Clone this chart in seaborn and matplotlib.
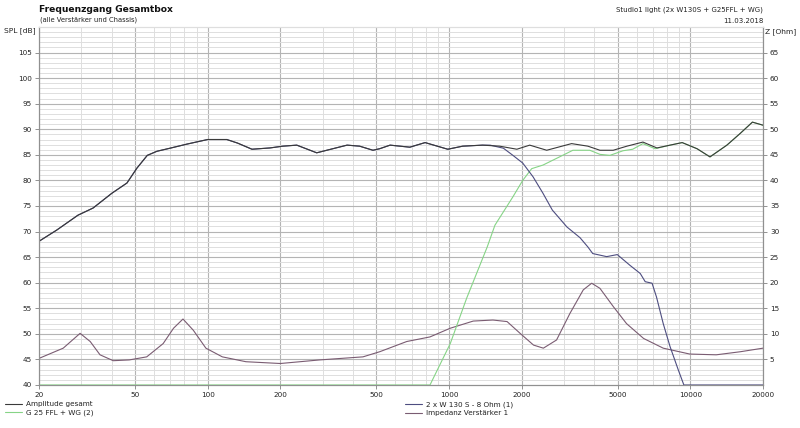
"""
Frequenzgang Gesamtbox - SPL und Impedanz ueber Frequenz (log).
"""

import matplotlib
matplotlib.use("Agg")
import matplotlib.pyplot as plt
import numpy as np
import pandas as pd
import seaborn as sns

# Amplitude gesamt (Hz, dB)
total_freq = [20, 23.7, 29, 33.5, 40.1, 46.3, 50.9, 56.2, 61.6, 69.8, 82, 100, 120,
              133, 152.6, 181, 205, 234, 283, 330, 378, 426, 484, 516, 570, 688,
              796, 988, 1140, 1376, 1620, 1910, 2160, 2540, 3220, 3760, 4220, 4790,
              5460, 6360, 7270, 8240, 9250, 10660, 12060, 14170, 16100, 18080, 20000]
total_spl = [68.1, 70.3, 73.2, 74.6, 77.5, 79.5, 82.4, 84.9, 85.7, 86.3, 87.1, 88.0, 88.0,
             87.3, 86.1, 86.35, 86.7, 86.9, 85.4, 86.2, 86.9, 86.7, 85.9, 86.2, 86.9, 86.5,
             87.4, 86.1, 86.7, 86.9, 86.7, 86.1, 86.9, 85.9, 87.2, 86.7, 85.9, 85.9,
             86.7, 87.5, 86.35, 86.9, 87.4, 86.2, 84.6, 86.9, 89.2, 91.4, 90.8]

# 2 x W 130 S - 8 Ohm (1)
woofer_freq = [20, 23.7, 29, 33.5, 40.1, 46.3, 50.9, 56.2, 61.6, 69.8, 82, 100, 120,
               133, 152.6, 181, 205, 234, 283, 330, 378, 426, 484, 516, 570, 688,
               796, 988, 1140, 1376, 1480, 1680, 1840, 2020, 2230, 2450, 2680, 3080,
               3490, 3760, 3940, 4500, 4980, 5620, 6200, 6500, 6940, 7240, 7720,
               8240, 8920, 9400, 20000]
woofer_spl = [68.1, 70.3, 73.2, 74.6, 77.5, 79.5, 82.4, 84.9, 85.7, 86.3, 87.1, 88.0, 88.0,
              87.3, 86.1, 86.35, 86.7, 86.9, 85.4, 86.2, 86.9, 86.7, 85.9, 86.2, 86.9, 86.5,
              87.4, 86.1, 86.7, 86.9, 86.9, 86.3, 84.9, 83.4, 80.7, 77.5, 74.2, 70.9,
              68.8, 67.0, 65.7, 65.1, 65.5, 63.4, 61.8, 60.2, 59.9, 57.2, 52.0,
              47.5, 42.9, 40.0, 40.0]

# G 25 FFL + WG (2)
tweeter_freq = [20, 834, 1012, 1184, 1440, 1550, 1840, 2020, 2200, 2450, 2870, 3260,
                3830, 4220, 4640, 5260, 5770, 6360, 7140, 8240, 9250, 10660, 12060,
                14170, 16100, 18080, 20000]
tweeter_spl = [40.0, 40.0, 48.1, 57.0, 67.0, 71.25, 76.8, 80.0, 82.3, 83.0, 84.6, 85.9,
               85.9, 85.1, 84.9, 85.8, 86.1, 87.2, 86.2, 86.9, 87.4, 86.2, 84.6,
               86.9, 89.2, 91.4, 90.8]

# Impedanz Verstaerker 1 (Hz, Ohm)
imp_freq = [20, 25.2, 29.6, 32.6, 35.8, 40.6, 47.3, 55.9, 65.4, 72.2, 79, 87.2, 98.3,
            115, 144, 200, 291, 440, 516, 668, 834, 1012, 1260, 1520, 1740, 1970,
            2240, 2460, 2790, 3170, 3600, 3900, 4220, 4800, 5440, 6400, 7720, 9940,
            12800, 16100, 20000]
imp_ohm = [5.2, 7.2, 10.1, 8.5, 5.9, 4.75, 4.9, 5.5, 8.1, 11.1, 12.9, 10.7, 7.2,
           5.5, 4.55, 4.2, 4.9, 5.5, 6.5, 8.5, 9.4, 11.1, 12.5, 12.7, 12.4, 10.1,
           7.8, 7.2, 8.8, 14.0, 18.6, 19.9, 18.9, 15.3, 12.0, 9.1, 7.2, 6.05,
           5.9, 6.5, 7.2]

freq_major = [20, 50, 100, 200, 500, 1000, 2000, 5000, 10000, 20000]
freq_labels = ["20", "50", "100", "200", "500", "1000", "2000", "5000", "10000", "20000"]
spl_ticks = list(range(40, 110, 5))
z_ticks = list(range(5, 70, 5))

COL_TOTAL = "#3a3a3a"
COL_WOOFER = "#4d4d80"
COL_TWEETER = "#86d486"
COL_IMP = "#7a5c72"
COL_GRID_MAJOR = "#b4b4b4"
COL_GRID_MINOR = "#dedede"
LW = 0.8
TICK_FS = 5.2


def main():
    sns.set_theme(style="white")
    plt.rcParams["font.family"] = ["DejaVu Sans"]

    fig = plt.figure(figsize=(8.0, 4.28), dpi=100)
    ax = fig.add_axes([0.04875, 0.1005, 0.905, 0.8364])
    ax2 = ax.twinx()
    # ax2 (impedance + grid) behind, SPL axis on top
    ax2.set_zorder(0)
    ax.set_zorder(1)
    ax.patch.set_visible(False)
    ax2.patch.set_facecolor("white")

    for a in (ax, ax2):
        a.set_xscale("log")
        a.set_xlim(20, 20000)
    ax.set_ylim(40, 110)
    ax2.set_ylim(0, 70)

    # grid on the back axis
    minor_f = []
    for dec in (10, 100, 1000, 10000):
        for m in range(2, 10):
            f = dec * m
            if 20 <= f <= 20000 and f not in freq_major:
                minor_f.append(f)
    for f in minor_f:
        ax2.axvline(f, color=COL_GRID_MINOR, lw=0.7, zorder=0)
    for f in freq_major:
        ax2.axvline(f, color=COL_GRID_MAJOR, lw=0.8, zorder=0)
    for z in range(1, 70):
        major = z % 5 == 0
        ax2.axhline(z, color=COL_GRID_MAJOR if major else COL_GRID_MINOR,
                    lw=0.8 if major else 0.7, zorder=0)

    df_total = pd.DataFrame({"f": total_freq, "v": total_spl})
    df_woofer = pd.DataFrame({"f": woofer_freq, "v": woofer_spl})
    df_tweeter = pd.DataFrame({"f": tweeter_freq, "v": tweeter_spl})
    df_imp = pd.DataFrame({"f": imp_freq, "v": imp_ohm})

    sns.lineplot(data=df_imp, x="f", y="v", ax=ax2, color=COL_IMP, lw=LW,
                 estimator=None, sort=False, zorder=3)
    sns.lineplot(data=df_tweeter, x="f", y="v", ax=ax, color=COL_TWEETER, lw=LW,
                 estimator=None, sort=False)
    sns.lineplot(data=df_woofer, x="f", y="v", ax=ax, color=COL_WOOFER, lw=LW,
                 estimator=None, sort=False)
    sns.lineplot(data=df_total, x="f", y="v", ax=ax, color=COL_TOTAL, lw=LW,
                 estimator=None, sort=False)

    for a in (ax, ax2):
        a.set_xlabel("")
        a.set_ylabel("")
        a.set_xlim(20, 20000)
    ax.set_ylim(40, 110)
    ax2.set_ylim(0, 70)

    ax.set_xticks(freq_major)
    ax.set_xticklabels(freq_labels)
    ax.set_xticks([], minor=True)
    ax2.set_xticks([], minor=True)
    ax.set_yticks(spl_ticks)
    ax2.set_yticks(z_ticks)

    tick_kw = dict(labelsize=TICK_FS, length=3, width=0.6, color="#808080", pad=2,
                   labelcolor="#222222")
    ax.tick_params(axis="x", bottom=True, **tick_kw)
    ax.tick_params(axis="y", left=True, **tick_kw)
    ax2.tick_params(axis="y", right=True, **tick_kw)

    for a in (ax, ax2):
        for sp in a.spines.values():
            sp.set_color("#909090")
            sp.set_linewidth(0.8)
        a.spines["top"].set_color(COL_GRID_MINOR)

    fig.text(0.049, 0.988, "Frequenzgang Gesamtbox", fontsize=6.6, fontweight="bold",
             ha="left", va="top", color="#111111")
    fig.text(0.050, 0.962, "(alle Verstärker und Chassis)", fontsize=4.9,
             ha="left", va="top", color="#222222")
    fig.text(0.954, 0.985, "Studio1 light (2x W130S + G25FFL + WG)", fontsize=5.0,
             ha="right", va="top", color="#222222")
    fig.text(0.954, 0.959, "11.03.2018", fontsize=5.0, ha="right", va="top",
             color="#222222")
    fig.text(0.045, 0.928, "SPL [dB]", fontsize=5.4, ha="right", va="center",
             color="#222222")
    fig.text(0.956, 0.925, "Z [Ohm]", fontsize=5.4, ha="left", va="center",
             color="#222222")

    h_total = plt.Line2D([], [], color=COL_TOTAL, lw=LW)
    h_tw = plt.Line2D([], [], color=COL_TWEETER, lw=LW)
    h_wf = plt.Line2D([], [], color=COL_WOOFER, lw=LW)
    h_imp = plt.Line2D([], [], color=COL_IMP, lw=LW)
    leg_kw = dict(frameon=False, fontsize=5.2, handlelength=2.4, handletextpad=0.5,
                  labelspacing=0.35, borderaxespad=0, borderpad=0, labelcolor="#222222")
    fig.legend([h_total, h_tw], ["Amplitude gesamt", "G 25 FFL + WG (2)"],
               loc="upper left", bbox_to_anchor=(0.006, 0.063), **leg_kw)
    fig.legend([h_wf, h_imp], ["2 x W 130 S - 8 Ohm (1)", "Impedanz Verstärker 1"],
               loc="upper left", bbox_to_anchor=(0.506, 0.063), **leg_kw)

    fig.savefig("out.png", dpi=100)
    plt.close(fig)


if __name__ == "__main__":
    main()
